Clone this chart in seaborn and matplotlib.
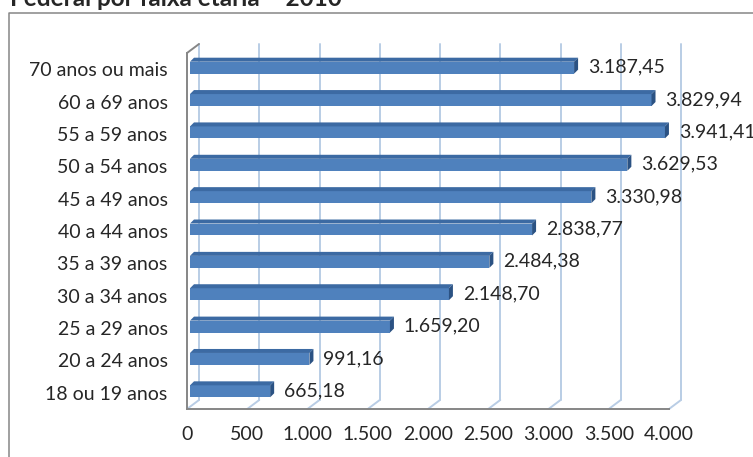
import matplotlib
matplotlib.use("Agg")
import numpy as np
import pandas as pd
import seaborn as sns
import matplotlib.pyplot as plt
from matplotlib.patches import Polygon
from matplotlib.lines import Line2D
from matplotlib.transforms import Affine2D, IdentityTransform

# ---- data ----
categories = ["70 anos ou mais", "60 a 69 anos", "55 a 59 anos", "50 a 54 anos",
              "45 a 49 anos", "40 a 44 anos", "35 a 39 anos", "30 a 34 anos",
              "25 a 29 anos", "20 a 24 anos", "18 ou 19 anos"]
values = [3187.45, 3829.94, 3941.41, 3629.53, 3330.98, 2838.77,
          2484.38, 2148.70, 1659.20, 991.16, 665.18]
x_ticks = [0, 500, 1000, 1500, 2000, 2500, 3000, 3500, 4000]
title = "Federal por faixa etária – 2010"


def br(v, d):
    s = f"{v:,.{d}f}"
    return s.replace(",", "X").replace(".", ",").replace("X", ".")


sns.set_style("white")
plt.rcParams["font.family"] = ["Lato", "DejaVu Sans"]

W, H = 753, 457
FS = 14
AX_GRAY = "#868686"
GRID = "#b9cde5"
FRONT = "#4f81bd"
TOP = "#3c6aa3"
SIDE = "#2b5283"

fig = plt.figure(figsize=(W / 100, H / 100), dpi=100)
fig.patch.set_facecolor("white")

# outer chart border (cut off at right and bottom)
fig.add_artist(Line2D([9 / W, 9 / W, 1.01], [-0.01, (H - 13) / H, (H - 13) / H],
                      transform=fig.transFigure, color=AX_GRAY, lw=1.1))
fig.text(10 / W, (H - 6) / H, title, fontsize=17.5, fontweight="bold",
         ha="left", va="baseline")

ax = fig.add_axes([187 / W, (H - 409) / H, (669 - 187) / W, (409 - 53) / H])
ax.set_facecolor("none")

df = pd.DataFrame({"faixa": categories, "valor": values})
sns.barplot(data=df, x="valor", y="faixa", orient="h", color=FRONT,
            saturation=1, width=0.37, errorbar=None, linewidth=0,
            edgecolor="none", ax=ax, zorder=3)

ax.set_xlim(0, 4000)
ax.set_ylim(len(categories) - 0.5, -0.5)
ax.set_xlabel("")
ax.set_ylabel("")

for s in ["top", "right"]:
    ax.spines[s].set_visible(False)
for s in ["left", "bottom"]:
    ax.spines[s].set_color(AX_GRAY)
    ax.spines[s].set_linewidth(1.4)
    ax.spines[s].set_zorder(5)

ax.set_xticks(x_ticks)
ax.set_xticklabels([br(t, 0) for t in x_ticks], fontsize=FS)
ax.tick_params(axis="x", direction="out", length=3.6, width=1.1,
               color=AX_GRAY, pad=9)
ax.set_yticks(range(len(categories)))
ax.set_yticklabels(categories, fontsize=FS)
ax.set_yticks(np.arange(-0.5, len(categories), 1.0), minor=True)
ax.tick_params(axis="y", which="major", length=0, pad=14)
ax.tick_params(axis="y", which="minor", direction="out", length=3.6,
               width=1.1, color=AX_GRAY)

# ---- 3D back wall: grid lines shifted in depth ----
DX, DY = 12, 9
depth = Affine2D().translate(DX, DY)
ylo, yhi = len(categories) - 0.5, -0.5
for xt in x_ticks:
    ax.add_line(Line2D([xt, xt], [ylo, yhi], color=GRID, lw=1.4,
                       transform=ax.transData + depth, clip_on=False, zorder=1))
    p0 = ax.transData.transform((xt, ylo))
    ax.add_line(Line2D([p0[0], p0[0] + DX], [p0[1], p0[1] + DY], color=GRID,
                       lw=1.4, transform=IdentityTransform(), clip_on=False,
                       zorder=1))
pt = ax.transData.transform((0, yhi))
ax.add_line(Line2D([pt[0], pt[0] + DX], [pt[1], pt[1] + DY], color=AX_GRAY,
                   lw=1.4, transform=IdentityTransform(), clip_on=False,
                   zorder=5))

# ---- 3D bars ----
SX, SY, D = 3, 1.5, 4
shift = Affine2D().translate(SX, SY)
for p in ax.patches:
    x0, y0 = p.get_x(), p.get_y()
    x1, y1 = x0 + p.get_width(), y0 + p.get_height()
    a = ax.transData.transform((x0, y0))
    b = ax.transData.transform((x1, y1))
    X0, X1 = min(a[0], b[0]) + SX, max(a[0], b[0]) + SX
    Yb, Yt = min(a[1], b[1]) + SY, max(a[1], b[1]) + SY
    p.set_transform(ax.transData + shift)
    p.set_clip_on(False)
    ax.add_artist(Polygon([(X0, Yt), (X1, Yt), (X1 + D, Yt + D), (X0 + D, Yt + D)],
                          closed=True, facecolor=TOP, edgecolor="none",
                          transform=IdentityTransform(), clip_on=False, zorder=4))
    ax.add_artist(Polygon([(X1, Yb), (X1 + D, Yb + D), (X1 + D, Yt + D), (X1, Yt)],
                          closed=True, facecolor=SIDE, edgecolor="none",
                          transform=IdentityTransform(), clip_on=False, zorder=4))

# ---- value labels ----
for i, v in enumerate(values):
    ax.annotate(br(v, 2), xy=(v, i), xytext=(17, 2), textcoords="offset pixels",
                ha="left", va="center", fontsize=FS, annotation_clip=False)

fig.savefig("out.png", dpi=100)
